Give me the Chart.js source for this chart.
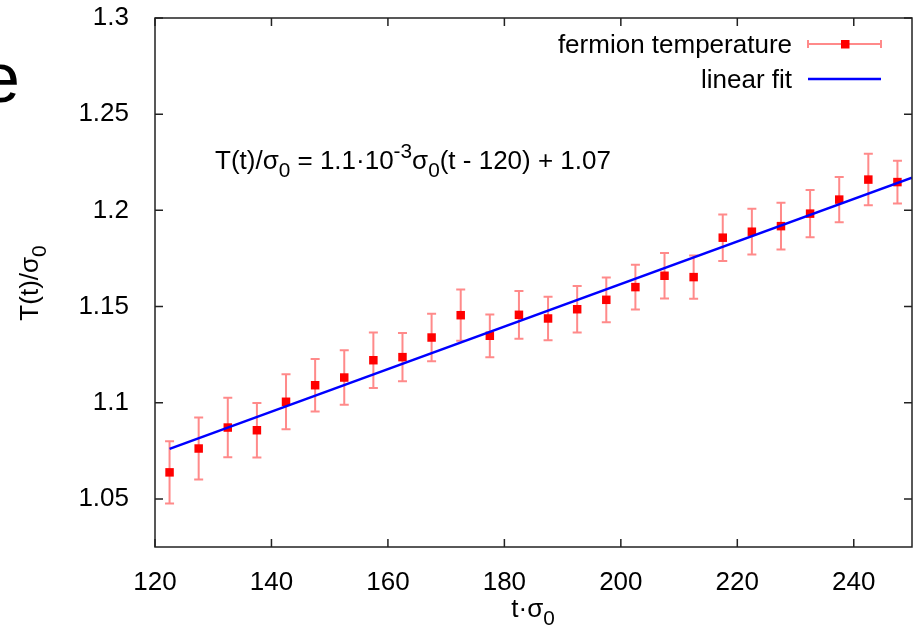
<!DOCTYPE html>
<html>
<head>
<meta charset="utf-8">
<script src="https://cdn.jsdelivr.net/npm/chart.js@4/dist/chart.umd.min.js"></script>
<style>
  html, body { margin: 0; padding: 0; background: #fff; }
  #wrap { width: 918px; height: 627px; position: relative; }
</style>
</head>
<body>
<div id="wrap"><canvas id="myChart" width="918" height="627"></canvas></div>
<script>
// data
const times = [122.5, 127.5, 132.5, 137.5, 142.5, 147.5, 152.5, 157.5, 162.5, 167.5,
  172.5, 177.5, 182.5, 187.5, 192.5, 197.5, 202.5, 207.5, 212.5, 217.5,
  222.5, 227.5, 232.5, 237.5, 242.5, 247.5];
const temps = [1.0638, 1.0762, 1.0871, 1.0857, 1.1005, 1.1091, 1.1131, 1.1221, 1.1237, 1.1339,
  1.1455, 1.1348, 1.1457, 1.1438, 1.1486, 1.1535, 1.1601, 1.1660, 1.1653, 1.1858,
  1.1889, 1.1918, 1.1983, 1.2056, 1.2160, 1.2147];
const tempErr = [0.0162, 0.0161, 0.0155, 0.0142, 0.0143, 0.0136, 0.0142, 0.0144, 0.0126, 0.0124,
  0.0133, 0.0111, 0.0124, 0.0113, 0.0121, 0.0116, 0.0116, 0.0118, 0.0113, 0.0121,
  0.0119, 0.0121, 0.0123, 0.0118, 0.0134, 0.0111];
const fitX = [122.5, 250];
const fitY = [1.076, 1.217];

const xTicks = [120, 140, 160, 180, 200, 220, 240];
const yTicks = [1.05, 1.1, 1.15, 1.2, 1.25, 1.3];

const FONT = "'Liberation Sans', Arial, Helvetica, sans-serif";
const FS = 26;
const errColor = '#ff8a8a';
const frameColor = '#222';

// draws text made of normal / sub / sup pieces, returns the width
function richText(ctx, parts, x, y, size, measureOnly) {
  let cx = x;
  for (const p of parts) {
    const s = p[1] === 'n' ? size : size * 0.8;
    ctx.font = s + 'px ' + FONT;
    const dy = p[1] === 'sub' ? size * 0.3 : (p[1] === 'sup' ? -size * 0.42 : 0);
    if (!measureOnly) ctx.fillText(p[0], cx, y + dy);
    cx += ctx.measureText(p[0]).width;
  }
  return cx - x;
}

const decor = {
  id: 'decor',
  beforeDatasetsDraw(chart) {
    const ctx = chart.ctx;
    const xs = chart.scales.x, ys = chart.scales.y;
    ctx.save();
    ctx.strokeStyle = errColor;
    ctx.lineWidth = 2;
    for (let i = 0; i < times.length; i++) {
      const px = xs.getPixelForValue(times[i]);
      const top = ys.getPixelForValue(temps[i] + tempErr[i]);
      const bot = ys.getPixelForValue(temps[i] - tempErr[i]);
      ctx.beginPath();
      ctx.moveTo(px, top); ctx.lineTo(px, bot);
      ctx.moveTo(px - 4.5, top); ctx.lineTo(px + 4.5, top);
      ctx.moveTo(px - 4.5, bot); ctx.lineTo(px + 4.5, bot);
      ctx.stroke();
    }
    ctx.restore();
  },
  afterDraw(chart) {
    const ctx = chart.ctx;
    const a = chart.chartArea;
    const xs = chart.scales.x, ys = chart.scales.y;
    ctx.save();

    // frame with inward ticks
    ctx.strokeStyle = frameColor;
    ctx.lineWidth = 1.5;
    ctx.strokeRect(a.left, a.top, a.right - a.left, a.bottom - a.top);
    ctx.beginPath();
    for (const v of xTicks) {
      const px = xs.getPixelForValue(v);
      ctx.moveTo(px, a.bottom); ctx.lineTo(px, a.bottom - 8);
      ctx.moveTo(px, a.top); ctx.lineTo(px, a.top + 8);
    }
    for (const v of yTicks) {
      const py = ys.getPixelForValue(v);
      ctx.moveTo(a.left, py); ctx.lineTo(a.left + 8, py);
      ctx.moveTo(a.right, py); ctx.lineTo(a.right - 8, py);
    }
    ctx.stroke();

    ctx.fillStyle = '#000';
    ctx.textBaseline = 'alphabetic';

    // legend
    ctx.font = FS + 'px ' + FONT;
    ctx.textAlign = 'right';
    ctx.fillText('fermion temperature', 792, 53);
    ctx.fillText('linear fit', 792, 88);
    ctx.textAlign = 'left';
    ctx.strokeStyle = errColor;
    ctx.lineWidth = 2;
    ctx.beginPath();
    ctx.moveTo(808, 44); ctx.lineTo(881, 44);
    ctx.moveTo(808, 40); ctx.lineTo(808, 48);
    ctx.moveTo(881, 40); ctx.lineTo(881, 48);
    ctx.stroke();
    ctx.fillStyle = '#ff0000';
    ctx.fillRect(841, 40, 8.5, 8.5);
    ctx.strokeStyle = '#0000ff';
    ctx.lineWidth = 2.5;
    ctx.beginPath();
    ctx.moveTo(808, 79); ctx.lineTo(881, 79);
    ctx.stroke();
    ctx.fillStyle = '#000';

    // fit formula
    richText(ctx, [['T(t)/σ', 'n'], ['0', 'sub'], [' = 1.1·10', 'n'], ['-3', 'sup'],
      ['σ', 'n'], ['0', 'sub'], ['(t - 120) + 1.07', 'n']], 215, 169, FS);

    // x title
    const xParts = [['t·σ', 'n'], ['0', 'sub']];
    const xw = richText(ctx, xParts, 0, 0, FS, true);
    richText(ctx, xParts, 533 - xw / 2, 617, FS);

    // y title
    const yParts = [['T(t)/σ', 'n'], ['0', 'sub']];
    const yw = richText(ctx, yParts, 0, 0, FS, true);
    ctx.translate(38, 283);
    ctx.rotate(-Math.PI / 2);
    richText(ctx, yParts, -yw / 2, 0, FS);
    ctx.restore();

    // cut letter at the left edge
    ctx.save();
    ctx.fillStyle = '#000';
    ctx.font = '70px ' + FONT;
    ctx.fillText('e', -19, 102);
    ctx.restore();
  }
};

const ctx = document.getElementById('myChart');

new Chart(ctx, {
  type: 'scatter',
  data: {
    datasets: [{
      label: 'linear fit',
      type: 'line',
      data: fitX.map((x, i) => ({ x: x, y: fitY[i] })),
      borderColor: '#0000ff',
      borderWidth: 2.5,
      pointRadius: 0,
      fill: false,
      order: 0,
    },
    {
      label: 'fermion temperature',
      data: times.map((t, i) => ({ x: t, y: temps[i] })),
      pointStyle: 'rect',
      pointRadius: 6,
      backgroundColor: '#ff0000',
      borderColor: '#ff0000',
      borderWidth: 0,
      order: 1,
    }]
  },
  options: {
    responsive: false,
    animation: false,
    layout: { padding: { left: 0, top: 18, right: 5, bottom: 0 } },
    plugins: {
      legend: { display: false },
      tooltip: { enabled: false },
    },
    scales: {
      x: {
        type: 'linear',
        min: 120,
        max: 250,
        afterFit: (s) => { s.height = 80; s.paddingLeft = 0; s.paddingRight = 0; },
        grid: { display: false },
        border: { display: false },
        ticks: {
          stepSize: 20,
          includeBounds: false,
          padding: 12,
          color: '#000',
          font: { family: FONT, size: FS },
          maxRotation: 0,
        },
      },
      y: {
        type: 'linear',
        min: 1.025,
        max: 1.3,
        afterFit: (s) => { s.width = 155; s.paddingTop = 0; s.paddingBottom = 0; },
        grid: { display: false },
        border: { display: false },
        ticks: {
          stepSize: 0.05,
          includeBounds: false,
          padding: 18,
          color: '#000',
          font: { family: FONT, size: FS },
          callback: (v) => String(+v.toFixed(3)),
        },
      },
    },
  },
  plugins: [decor],
});
</script>
</body>
</html>
